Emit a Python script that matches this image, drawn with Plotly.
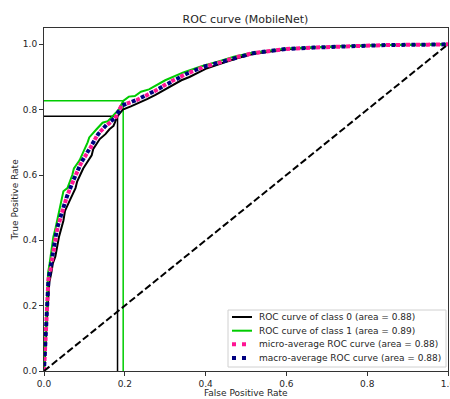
import plotly.graph_objects as go

# ROC curve data
c0_fpr = [0, 0.003, 0.006, 0.009, 0.013, 0.018, 0.022, 0.028, 0.033, 0.037, 0.048, 0.052, 0.063, 0.078, 0.082, 0.097, 0.118, 0.122, 0.138, 0.152, 0.162, 0.172, 0.182, 0.195, 0.215, 0.235, 0.255, 0.276, 0.3, 0.318, 0.34, 0.36, 0.4, 0.44, 0.48, 0.52, 0.56, 0.6, 0.667, 0.75, 0.85, 0.95, 1.0]
c0_tpr = [0, 0.05, 0.14, 0.21, 0.27, 0.30, 0.33, 0.35, 0.39, 0.41, 0.46, 0.49, 0.52, 0.56, 0.58, 0.62, 0.66, 0.68, 0.71, 0.725, 0.74, 0.75, 0.78, 0.80, 0.81, 0.82, 0.832, 0.845, 0.862, 0.875, 0.89, 0.9, 0.925, 0.942, 0.958, 0.971, 0.979, 0.985, 0.99, 0.995, 0.998, 0.999, 1.0]

c1_fpr = [0, 0.002, 0.004, 0.007, 0.01, 0.014, 0.019, 0.023, 0.029, 0.036, 0.044, 0.048, 0.058, 0.07, 0.074, 0.088, 0.108, 0.112, 0.13, 0.145, 0.158, 0.17, 0.185, 0.196, 0.21, 0.225, 0.24, 0.26, 0.28, 0.3, 0.345, 0.39, 0.43, 0.47, 0.515, 0.555, 0.6, 0.667, 0.75, 0.85, 0.95, 1.0]
c1_tpr = [0, 0.06, 0.17, 0.24, 0.30, 0.33, 0.37, 0.41, 0.44, 0.48, 0.52, 0.55, 0.56, 0.60, 0.62, 0.645, 0.70, 0.715, 0.74, 0.76, 0.765, 0.78, 0.80, 0.827, 0.84, 0.842, 0.855, 0.862, 0.875, 0.89, 0.914, 0.933, 0.947, 0.962, 0.974, 0.981, 0.987, 0.991, 0.995, 0.998, 0.999, 1.0]

micro_fpr = [0, 0.002, 0.005, 0.008, 0.011, 0.016, 0.021, 0.026, 0.032, 0.044, 0.057, 0.073, 0.093, 0.114, 0.134, 0.155, 0.176, 0.192, 0.229, 0.27, 0.312, 0.353, 0.394, 0.436, 0.477, 0.518, 0.559, 0.6, 0.667, 0.75, 0.85, 0.95, 1.0]
micro_tpr = [0, 0.05, 0.15, 0.22, 0.28, 0.31, 0.35, 0.39, 0.43, 0.483, 0.535, 0.584, 0.64, 0.681, 0.727, 0.752, 0.773, 0.813, 0.829, 0.854, 0.885, 0.91, 0.93, 0.945, 0.961, 0.973, 0.98, 0.986, 0.99, 0.995, 0.998, 0.999, 1.0]

macro_fpr = [0, 0.002, 0.005, 0.008, 0.011, 0.016, 0.021, 0.026, 0.032, 0.044, 0.057, 0.073, 0.093, 0.114, 0.134, 0.155, 0.176, 0.192, 0.229, 0.27, 0.312, 0.353, 0.394, 0.436, 0.477, 0.518, 0.559, 0.6, 0.667, 0.75, 0.85, 0.95, 1.0]
macro_tpr = [0, 0.06, 0.16, 0.23, 0.28, 0.315, 0.355, 0.39, 0.435, 0.485, 0.535, 0.585, 0.64, 0.683, 0.725, 0.754, 0.775, 0.812, 0.83, 0.855, 0.884, 0.91, 0.931, 0.946, 0.961, 0.973, 0.98, 0.986, 0.99, 0.995, 0.998, 0.999, 1.0]

# operating-point guide lines (fpr, tpr)
c0_point = (0.182, 0.78)
c1_point = (0.196, 0.827)

labels = ["ROC curve of class 0 (area = 0.88)",
          "ROC curve of class 1 (area = 0.89)",
          "micro-average ROC curve (area = 0.88)",
          "macro-average ROC curve (area = 0.88)"]
colors = ["black", "#00cc00", "deeppink", "navy"]
widths = [2, 2, 4, 4]
dashes = ["solid", "solid", "4px,6px", "0px,5px,4px,1px"]
legend_dashes = ["solid", "solid", "4px,6px", "4px,6px"]

FONT = "DejaVu Sans"
TXT = "#262626"

fig = go.Figure()

fig.add_trace(go.Scatter(x=[0, c0_point[0], c0_point[0]], y=[c0_point[1], c0_point[1], 0],
                         mode="lines", line=dict(color="black", width=1.5), showlegend=False))
fig.add_trace(go.Scatter(x=[0, c1_point[0], c1_point[0]], y=[c1_point[1], c1_point[1], 0],
                         mode="lines", line=dict(color="#00cc00", width=1.5), showlegend=False))

series = [(c0_fpr, c0_tpr), (c1_fpr, c1_tpr), (micro_fpr, micro_tpr), (macro_fpr, macro_tpr)]
for (fx, ty), name, col, w, d in zip(series, labels, colors, widths, dashes):
    fig.add_trace(go.Scatter(x=fx, y=ty, mode="lines", name=name,
                             line=dict(color=col, width=w, dash=d), showlegend=False))

fig.add_trace(go.Scatter(x=[0, 1], y=[0, 1], mode="lines",
                         line=dict(color="black", width=2, dash="7px,3px"), showlegend=False))

axis_common = dict(showline=True, mirror=True, linecolor="#333", linewidth=1,
                   showgrid=False, zeroline=False, ticks="outside", ticklen=4,
                   tickcolor="#333", tickfont=dict(family=FONT, size=9, color=TXT),
                   tickformat=".1f", dtick=0.2, ticklabeloverflow="allow", automargin=False)

# Plot area in pixels (for the compact matplotlib-style legend)
L, R, T, B = 44, 448, 28, 371
W, H = R - L, B - T
def px(x):
    return (x - L) / W
def py(y):
    return (B - y) / H

shapes = [dict(type="rect", xref="paper", yref="paper",
               x0=px(228), x1=px(446), y0=py(367), y1=py(310),
               line=dict(color="#d0d0d0", width=1), fillcolor="rgba(255,255,255,0.85)",
               layer="above")]
annotations = []
row_y = [317, 330.7, 344.3, 358]
for i, (name, col, w, d) in enumerate(zip(labels, colors, widths, legend_dashes)):
    shapes.append(dict(type="line", xref="paper", yref="paper",
                       x0=px(232), x1=px(252), y0=py(row_y[i]), y1=py(row_y[i]),
                       line=dict(color=col, width=w, dash=d), layer="above"))
    annotations.append(dict(text=name, xref="paper", yref="paper", x=px(257), y=py(row_y[i]),
                            showarrow=False, xanchor="left", yanchor="middle",
                            font=dict(family=FONT, size=9, color=TXT)))

annotations += [
    dict(text="False Positive Rate", xref="paper", yref="paper", x=0.5, y=0, yshift=-22,
         showarrow=False, xanchor="center", yanchor="middle",
         font=dict(family=FONT, size=9, color=TXT)),
    dict(text="True Positive Rate", xref="paper", yref="paper", x=0, y=0.5, xshift=-30,
         showarrow=False, textangle=-90, xanchor="center", yanchor="middle",
         font=dict(family=FONT, size=9, color=TXT)),
]

fig.update_layout(
    width=450, height=399,
    margin=dict(l=L, r=450 - R, t=T, b=399 - B, autoexpand=False),
    paper_bgcolor="white", plot_bgcolor="white",
    title=dict(text="ROC curve (MobileNet)", x=245.5 / 450, xanchor="center", y=1 - 19 / 399, yanchor="middle",
               font=dict(family=FONT, size=11, color=TXT)),
    xaxis=dict(range=[0, 1.0], **axis_common),
    yaxis=dict(range=[0, 1.05], **axis_common),
    showlegend=False,
    shapes=shapes,
    annotations=annotations,
)

fig.write_html("out.html")
